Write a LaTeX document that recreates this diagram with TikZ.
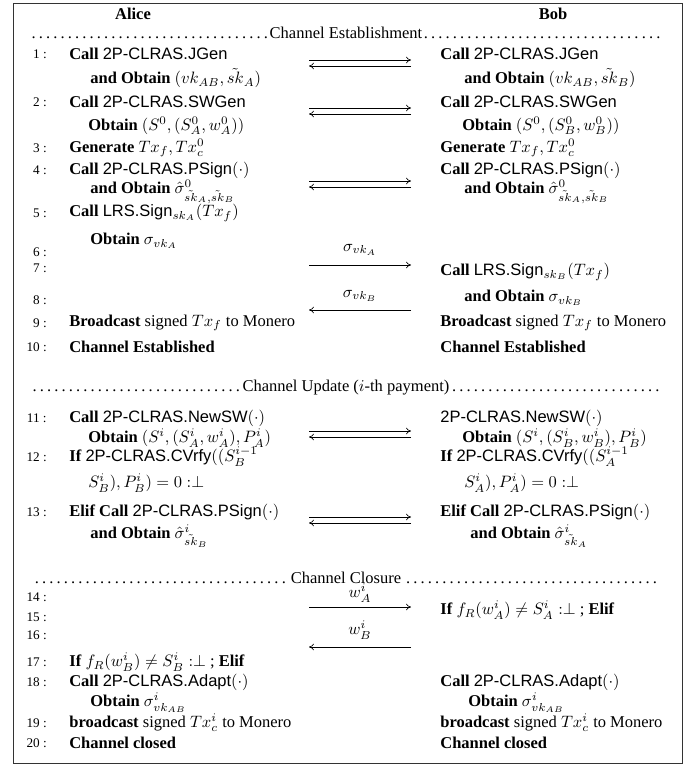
\documentclass[tikz,border=0pt]{standalone}
\usepackage[no-math]{fontspec}
\setmainfont{Liberation Serif}
\setsansfont{Liberation Sans}
\usetikzlibrary{arrows.meta}
\newcommand{\clras}[1]{\textsf{2P-CLRAS.#1}}
\newcommand{\phase}[1]{\hbox to 383pt{\dotfill #1\dotfill}}

\begin{document}
\begin{tikzpicture}[x=0.606pt, y=-0.606pt,
    every node/.style={inner sep=0pt},
    ln/.style={anchor=east, font=\footnotesize},
    txt/.style={anchor=west},
    msg/.style={-{To[length=3pt,width=4pt]}, line width=0.4pt}]

        \useasboundingbox (0,0) rectangle (697,765);
        % Marco
        \draw[line width=0.6pt, black!80] (13,3) rectangle (682,763);

        % Cabecera
        \node (alice) at (133,14) {\textbf{Alice}};
        \node (bob) at (553,14) {\textbf{Bob}};

        % --- ESTABLECIMIENTO ---
        \node (est) at (346,33) {\phase{Channel Establishment}};

        % 1 - JGen
        \node[ln] (n1) at (47,54) {1 :};
        \node[txt] (a1) at (69,54) {\textbf{Call} \clras{JGen}};
        \node[txt] (a1b) at (90,78) {\textbf{and Obtain} $(vk_{AB},\tilde{sk}_A)$};
        \node[txt] (b1) at (440,54) {\textbf{Call} \clras{JGen}};
        \node[txt] (b1b) at (464,78) {\textbf{and Obtain} $(vk_{AB},\tilde{sk}_B)$};
        \coordinate (m1l) at (309,60); \coordinate (m1r) at (411,60);
        \coordinate (m1lb) at (309,66); \coordinate (m1rb) at (411,66);
        \draw[msg] (m1l) -- (m1r);
        \draw[msg] (m1rb) -- (m1lb);

        % 2 - SWGen
        \node[ln] (n2) at (47,102) {2 :};
        \node[txt] (a2) at (69,102) {\textbf{Call} \clras{SWGen}};
        \node[txt] (a2b) at (88,126) {\textbf{Obtain} $(S^0,(S^0_A,w^0_A))$};
        \node[txt] (b2) at (440,102) {\textbf{Call} \clras{SWGen}};
        \node[txt] (b2b) at (462,126) {\textbf{Obtain} $(S^0,(S^0_B,w^0_B))$};
        \coordinate (m2l) at (309,108); \coordinate (m2r) at (411,108);
        \coordinate (m2lb) at (309,114); \coordinate (m2rb) at (411,114);
        \draw[msg] (m2l) -- (m2r);
        \draw[msg] (m2rb) -- (m2lb);

        % 3 - Transacciones
        \node[ln] (n3) at (47,148) {3 :};
        \node[txt] (a3) at (69,148) {\textbf{Generate} $Tx_f,Tx^0_c$};
        \node[txt] (b3) at (440,148) {\textbf{Generate} $Tx_f,Tx^0_c$};

        % 4 - PSign
        \node[ln] (n4) at (47,170) {4 :};
        \node[txt] (a4) at (69,170) {\textbf{Call} \clras{PSign}$(\cdot)$};
        \node[txt] (a4b) at (90,192) {\textbf{and Obtain} $\hat{\sigma}^0_{\tilde{sk}_A,\tilde{sk}_B}$};
        \node[txt] (b4) at (440,170) {\textbf{Call} \clras{PSign}$(\cdot)$};
        \node[txt] (b4b) at (464,192) {\textbf{and Obtain} $\hat{\sigma}^0_{\tilde{sk}_A,\tilde{sk}_B}$};
        \coordinate (m4l) at (309,181); \coordinate (m4r) at (411,181);
        \coordinate (m4lb) at (309,187); \coordinate (m4rb) at (411,187);
        \draw[msg] (m4l) -- (m4r);
        \draw[msg] (m4rb) -- (m4lb);

        % 5-8 - Firmas LRS
        \node[ln] (n5) at (47,213) {5 :};
        \node[txt] (a5) at (69,213) {\textbf{Call} \textsf{LRS.Sign}$_{sk_A}(Tx_f)$};
        \node[ln] (n6) at (47,252) {6 :};
        \node[txt] (a6) at (90,241) {\textbf{Obtain} $\sigma_{vk_A}$};
        \coordinate (m6l) at (309,265); \coordinate (m6r) at (411,265);
        \draw[msg] (m6l) -- (m6r);
        \node (s6) at (360,250) {$\sigma_{vk_A}$};
        \node[ln] (n7) at (47,268) {7 :};
        \node[txt] (b7) at (440,272) {\textbf{Call} \textsf{LRS.Sign}$_{sk_B}(Tx_f)$};
        \node[ln] (n8) at (47,300) {8 :};
        \node[txt] (b8) at (464,298) {\textbf{and Obtain} $\sigma_{vk_B}$};
        \coordinate (m8l) at (309,310); \coordinate (m8r) at (411,310);
        \draw[msg] (m8r) -- (m8l);
        \node (s8) at (360,296) {$\sigma_{vk_B}$};

        % 9-10 - Cierre del establecimiento
        \node[ln] (n9) at (47,323) {9 :};
        \node[txt] (a9) at (69,323) {\textbf{Broadcast} signed $Tx_f$ to Monero};
        \node[txt] (b9) at (440,323) {\textbf{Broadcast} signed $Tx_f$ to Monero};
        \node[ln] (n10) at (47,347) {10 :};
        \node[txt] (a10) at (69,347) {\textbf{Channel Established}};
        \node[txt] (b10) at (440,347) {\textbf{Channel Established}};

        % --- ACTUALIZACION ---
        \node (upd) at (346,388) {\phase{Channel Update ($i$-th payment)}};

        % 11 - NewSW
        \node[ln] (n11) at (47,418) {11 :};
        \node[txt] (a11) at (69,418) {\textbf{Call} \clras{NewSW}$(\cdot)$};
        \node[txt] (a11b) at (88,438) {\textbf{Obtain} $(S^i,(S^i_A,w^i_A),P^i_A)$};
        \node[txt] (b11) at (440,418) {\clras{NewSW}$(\cdot)$};
        \node[txt] (b11b) at (462,438) {\textbf{Obtain} $(S^i,(S^i_B,w^i_B),P^i_B)$};
        \coordinate (m11l) at (309,431); \coordinate (m11r) at (411,431);
        \coordinate (m11lb) at (309,437); \coordinate (m11rb) at (411,437);
        \draw[msg] (m11l) -- (m11r);
        \draw[msg] (m11rb) -- (m11lb);

        % 12 - CVrfy
        \node[ln] (n12) at (47,457) {12 :};
        \node[txt] (a12) at (69,457) {\textbf{If} \clras{CVrfy}$((S^{i-1}_B$};
        \node[txt] (a12b) at (88,483) {$S^i_B),P^i_B)=0:\perp$};
        \node[txt] (b12) at (440,457) {\textbf{If} \clras{CVrfy}$((S^{i-1}_A$};
        \node[txt] (b12b) at (464,483) {$S^i_A),P^i_A)=0:\perp$};

        % 13 - PSign
        \node[ln] (n13) at (47,512) {13 :};
        \node[txt] (a13) at (69,512) {\textbf{Elif Call} \clras{PSign}$(\cdot)$};
        \node[txt] (a13b) at (90,536) {\textbf{and Obtain} $\hat{\sigma}^i_{\tilde{sk}_B}$};
        \node[txt] (b13) at (440,512) {\textbf{Elif Call} \clras{PSign}$(\cdot)$};
        \node[txt] (b13b) at (470,536) {\textbf{and Obtain} $\hat{\sigma}^i_{\tilde{sk}_A}$};
        \coordinate (m13l) at (309,517); \coordinate (m13r) at (411,517);
        \coordinate (m13lb) at (309,523); \coordinate (m13rb) at (411,523);
        \draw[msg] (m13l) -- (m13r);
        \draw[msg] (m13rb) -- (m13lb);

        % --- CIERRE ---
        \node (clo) at (346,578) {\phase{Channel Closure}};

        % 14-17 - Testigos
        \node[ln] (n14) at (47,597) {14 :};
        \coordinate (m14l) at (309,607); \coordinate (m14r) at (411,607);
        \draw[msg] (m14l) -- (m14r);
        \node (w14) at (360,593) {$w^i_A$};
        \node[ln] (n15) at (47,617) {15 :};
        \node[txt] (b15) at (440,610) {\textbf{If} $f_R(w^i_A)\neq S^i_A:\perp$ ; \textbf{Elif}};
        \node[ln] (n16) at (47,635) {16 :};
        \coordinate (m16l) at (309,647); \coordinate (m16r) at (411,647);
        \draw[msg] (m16r) -- (m16l);
        \node (w16) at (360,630) {$w^i_B$};
        \node[ln] (n17) at (47,662) {17 :};
        \node[txt] (a17) at (69,662) {\textbf{If} $f_R(w^i_B)\neq S^i_B:\perp$ ; \textbf{Elif}};

        % 18-20 - Adapt y cierre
        \node[ln] (n18) at (47,682) {18 :};
        \node[txt] (a18) at (69,682) {\textbf{Call} \clras{Adapt}$(\cdot)$};
        \node[txt] (a18b) at (90,703) {\textbf{Obtain} $\sigma^i_{vk_{AB}}$};
        \node[txt] (b18) at (440,682) {\textbf{Call} \clras{Adapt}$(\cdot)$};
        \node[txt] (b18b) at (468,703) {\textbf{Obtain} $\sigma^i_{vk_{AB}}$};
        \node[ln] (n19) at (47,723) {19 :};
        \node[txt] (a19) at (69,723) {\textbf{broadcast} signed $Tx^i_c$ to Monero};
        \node[txt] (b19) at (440,723) {\textbf{broadcast} signed $Tx^i_c$ to Monero};
        \node[ln] (n20) at (47,743) {20 :};
        \node[txt] (a20) at (69,743) {\textbf{Channel closed}};
        \node[txt] (b20) at (440,743) {\textbf{Channel closed}};

    \end{tikzpicture}
\end{document}
